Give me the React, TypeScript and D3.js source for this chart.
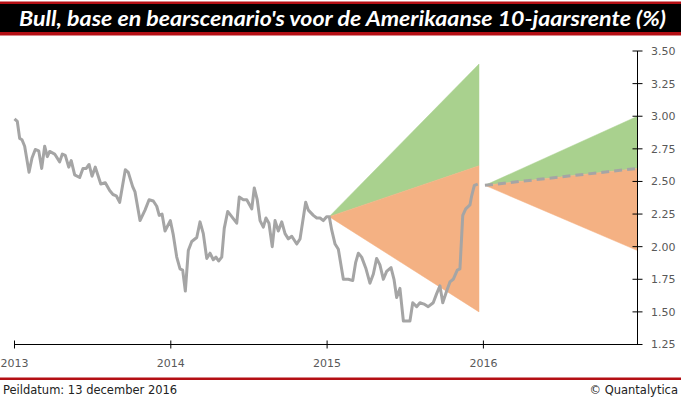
import React from "react";
import * as d3 from "d3";

// Historical 10y yield (fractional year on the chart's axis, value in %)
const years = [
  2013.0, 2013.018, 2013.033, 2013.048, 2013.065, 2013.093, 2013.112, 2013.133, 2013.155, 2013.174,
  2013.193, 2013.21, 2013.225, 2013.257, 2013.289, 2013.306, 2013.325, 2013.347, 2013.363, 2013.385,
  2013.417, 2013.438, 2013.459, 2013.477, 2013.496, 2013.517, 2013.552, 2013.581, 2013.609, 2013.63,
  2013.651, 2013.673, 2013.709, 2013.728, 2013.756, 2013.771, 2013.803, 2013.835, 2013.861, 2013.888,
  2013.91, 2013.926, 2013.944, 2013.963, 2013.997, 2014.016, 2014.038, 2014.059, 2014.076, 2014.093,
  2014.112, 2014.134, 2014.166, 2014.187, 2014.208, 2014.23, 2014.251, 2014.272, 2014.289, 2014.306,
  2014.326, 2014.342, 2014.364, 2014.39, 2014.422, 2014.438, 2014.464, 2014.486, 2014.518, 2014.534,
  2014.553, 2014.571, 2014.592, 2014.609, 2014.628, 2014.649, 2014.667, 2014.688, 2014.71, 2014.731,
  2014.752, 2014.774, 2014.806, 2014.827, 2014.863, 2014.88, 2014.912, 2014.934, 2014.955, 2014.976,
  2014.997, 2015.014, 2015.029, 2015.051, 2015.072, 2015.104, 2015.136, 2015.164, 2015.183, 2015.2,
  2015.221, 2015.249, 2015.274, 2015.296, 2015.317, 2015.338, 2015.36, 2015.381, 2015.409, 2015.428,
  2015.445, 2015.466, 2015.488, 2015.509, 2015.53, 2015.548, 2015.573, 2015.594, 2015.62, 2015.647,
  2015.679, 2015.701, 2015.722, 2015.74, 2015.765, 2015.786, 2015.807, 2015.833, 2015.85, 2015.868,
  2015.887, 2015.914, 2015.925, 2015.942, 2015.964,
];
const rates = [
  2.98, 2.96, 2.83, 2.82, 2.77, 2.57, 2.68, 2.745, 2.735, 2.6,
  2.77, 2.69, 2.73, 2.71, 2.65, 2.71, 2.7, 2.61, 2.66, 2.55,
  2.53, 2.6, 2.6, 2.63, 2.54, 2.61, 2.48, 2.49, 2.43, 2.4,
  2.39, 2.34, 2.59, 2.57, 2.46, 2.42, 2.2, 2.28, 2.36, 2.35,
  2.31, 2.24, 2.25, 2.12, 2.2, 2.09, 1.92, 1.83, 1.82, 1.66,
  1.97, 2.04, 2.07, 2.19, 2.1, 1.91, 1.95, 1.9, 1.92, 1.89,
  1.92, 2.14, 2.27, 2.23, 2.18, 2.38, 2.36, 2.36, 2.29, 2.45,
  2.36, 2.2, 2.15, 2.22, 2.18, 2.0, 2.2, 2.12, 2.19, 2.1,
  2.06, 2.08, 2.02, 2.06, 2.34, 2.28, 2.24, 2.22, 2.22, 2.2,
  2.23, 2.23, 2.13, 2.02, 1.98, 1.75, 1.75, 1.74, 1.88, 1.95,
  1.92, 1.83, 1.72, 1.79, 1.91, 1.86, 1.75, 1.81, 1.84, 1.75,
  1.61, 1.68, 1.43, 1.43, 1.43, 1.57, 1.54, 1.57, 1.56, 1.54,
  1.57, 1.64, 1.7, 1.57, 1.66, 1.73, 1.75, 1.82, 1.83, 2.24,
  2.29, 2.32, 2.39, 2.47, 2.48,
];

// Scenario fans: [start, end] positions on the axis
const fanStartYears = [2015.013, 2016.01];
const fanEndYears = [2015.972, 2016.986];
const fanStartValues = [2.23, 2.47];
const bullEnd = [3.4, 3.0];
const baseEnd = [2.62, 2.6];
const bearEnd = [1.5, 1.97];

const yTicks = [1.25, 1.5, 1.75, 2.0, 2.25, 2.5, 2.75, 3.0, 3.25, 3.5];
const xTicks = [2013, 2014, 2015, 2016];

const title = "Bull, base en bearscenario's voor de Amerikaanse 10-jaarsrente (%)";
const footerLeft = "Peildatum: 13 december 2016";
const footerRight = "© Quantalytica";

const W = 681;
const H = 399;
const GREEN = "#A9D18E";
const ORANGE = "#F4B183";
const GRAY = "#A5A5A5";
const RED = "#B40F14";
const LABEL = "#595959";
const FONT = "'DejaVu Sans', sans-serif";

export default function App() {
  const x = d3.scaleLinear().domain([2013, 2016.986]).range([14.5, 637.5]);
  const y = d3.scaleLinear().domain([1.25, 3.5]).range([344.5, 51]);

  type P = { t: number; lo: number; hi: number };
  const area = d3
    .area<P>()
    .x((d) => x(d.t))
    .y0((d) => y(d.lo))
    .y1((d) => y(d.hi));

  const line = d3
    .line<[number, number]>()
    .x((d) => x(d[0]))
    .y((d) => y(d[1]))
    .curve(d3.curveLinear);

  const hist: [number, number][] = years.map((t, i) => [t, rates[i]]);
  const fmt = d3.format(".2f");
  const axisX = x.range()[1];
  const axisY = y.range()[0];

  return (
    <svg
      width={W}
      height={H}
      viewBox={`0 0 ${W} ${H}`}
      style={{ position: "absolute", left: 0, top: 0, display: "block", background: "#fff" }}
    >
      {/* title bar */}
      <rect x={0} y={1.5} width={W} height={34} fill={RED} />
      <rect x={0} y={4} width={W} height={28} fill="#000" />
      <text
        x={19}
        y={26}
        fill="#fff"
        fontFamily="Lato, 'Open Sans', sans-serif"
        fontWeight="bold"
        fontStyle="italic"
        fontSize={20}
        textLength={647}
        lengthAdjust="spacingAndGlyphs"
      >
        {title}
      </text>

      {/* fans */}
      {fanStartYears.map((t0, i) => {
        const t1 = fanEndYears[i];
        const v0 = fanStartValues[i];
        const green = area([
          { t: t0, lo: v0, hi: v0 },
          { t: t1, lo: baseEnd[i], hi: bullEnd[i] },
        ]);
        const orange = area([
          { t: t0, lo: v0, hi: v0 },
          { t: t1, lo: bearEnd[i], hi: baseEnd[i] },
        ]);
        return (
          <g key={i}>
            <path d={green || ""} fill={GREEN} stroke={GREEN} strokeWidth={0.5} />
            <path d={orange || ""} fill={ORANGE} stroke={ORANGE} strokeWidth={0.5} />
          </g>
        );
      })}
      {/* dashed base path for the latest fan */}
      <path
        d={
          line([
            [fanStartYears[1], fanStartValues[1]],
            [fanEndYears[1], baseEnd[1]],
          ]) || ""
        }
        fill="none"
        stroke={GRAY}
        strokeWidth={3}
        strokeDasharray="8,5"
      />

      {/* historical line */}
      <path
        d={line(hist) || ""}
        fill="none"
        stroke={GRAY}
        strokeWidth={3}
        strokeLinejoin="round"
      />

      {/* y axis (right) */}
      <line x1={axisX} x2={axisX} y1={y(3.5)} y2={axisY} stroke="#000" strokeWidth={1} />
      {yTicks.map((v) => (
        <g key={v}>
          <line x1={axisX - 5} x2={axisX + 5} y1={y(v)} y2={y(v)} stroke="#000" strokeWidth={1} />
          <text
            x={651}
            y={y(v)}
            dy="0.36em"
            fill={LABEL}
            fontFamily={FONT}
            fontSize={11}
          >
            {fmt(v)}
          </text>
        </g>
      ))}

      {/* x axis */}
      <line x1={x.range()[0]} x2={axisX} y1={axisY} y2={axisY} stroke="#000" strokeWidth={1} />
      {xTicks.map((t) => (
        <g key={t}>
          <line x1={x(t)} x2={x(t)} y1={axisY - 4} y2={axisY + 4} stroke="#000" strokeWidth={1} />
          <text
            x={x(t)}
            y={367}
            textAnchor="middle"
            fill={LABEL}
            fontFamily={FONT}
            fontSize={11}
          >
            {String(t)}
          </text>
        </g>
      ))}

      {/* footer */}
      <rect x={0} y={377.5} width={W} height={2.5} fill={RED} />
      <text x={3} y={394} fill="#222" fontFamily={FONT} fontSize={11.5}>
        {footerLeft}
      </text>
      <text x={678} y={394} textAnchor="end" fill="#222" fontFamily={FONT} fontSize={11.5}>
        {footerRight}
      </text>
    </svg>
  );
}
